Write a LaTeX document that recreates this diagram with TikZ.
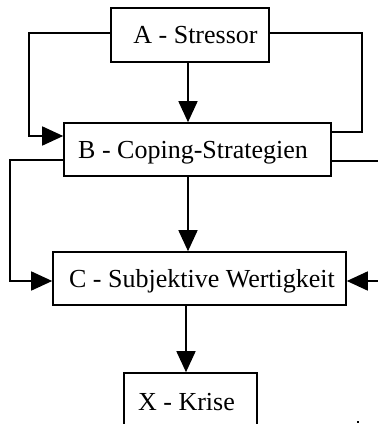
\documentclass[tikz,border=0pt]{standalone}
\usepackage{fontspec}
\setmainfont{Liberation Serif}
\usetikzlibrary{arrows.meta}
\begin{document}
\begin{tikzpicture}[x=1pt,y=-1pt,
  box/.style={draw, line width=1.6pt, inner sep=0pt, text height=17pt, text depth=0pt,
    font=\fontsize{26}{30}\selectfont},
  conn/.style={line width=1.6pt},
  arr/.style={conn, -{Triangle[length=21pt,width=19pt]}}]
\clip (0,0) rectangle (378,424);
\fill[white] (0,0) rectangle (378,424);
\node[box, minimum width=158pt, minimum height=54pt] (A) at (190,35) {\hspace*{11pt}A - Stressor};
\node[box, minimum width=267pt, minimum height=53pt] (B) at (197.5,149.5) {B - Coping-Strategien\hspace*{9pt}};
\node[box, minimum width=293pt, minimum height=53pt] (C) at (199.5,278.5) {\hspace*{5pt}C - Subjektive Wertigkeit};
\node[box, minimum width=133pt, minimum height=58pt] (X) at (190.5,402) {X - Krise\hspace*{8pt}};
\coordinate (L1) at (29,136);
\coordinate (R1) at (362,132);
\coordinate (L2) at (10,281);
\coordinate (R2) at (378,161);
\coordinate (R3) at (378,281);
% A -> B
\draw[arr] ([xshift=-2pt]A.south) -- ([xshift=-2pt]A.south |- B.north);
% A left loop -> B
\draw[arr] ([yshift=2pt]A.west) -| (L1) -- (L1 -| B.west);
% A right loop -> B
\draw[conn] ([yshift=2pt]A.east) -| (R1) -- (R1 -| B.east);
% B left loop -> C
\draw[arr] ([yshift=-10.5pt]B.west) -| (L2) -- (L2 -| C.west);
% B right line out
\draw[conn] (R2 -| B.east) -- (R2);
% incoming from right -> C
\draw[arr] (R3) -- (R3 -| C.east);
% B -> C
\draw[arr] ([xshift=-9.5pt]B.south) -- ([xshift=-9.5pt]B.south |- C.north);
% C -> X
\draw[arr] ([xshift=-13.5pt]C.south) -- ([xshift=-13.5pt]C.south |- X.north);
% small mark
\fill (357,421) rectangle (359,423);
\end{tikzpicture}
\end{document}
